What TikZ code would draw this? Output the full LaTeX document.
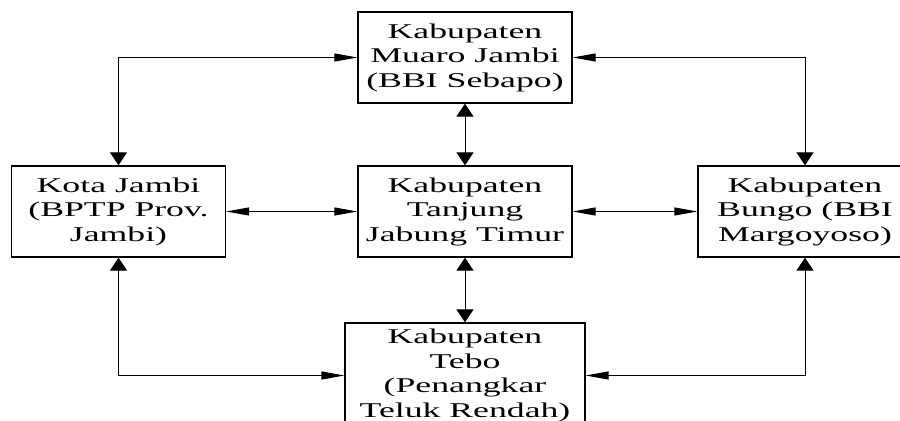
\documentclass[tikz,border=0pt]{standalone}
\usepackage{fontspec}
\setmainfont{Liberation Serif}[FakeStretch=1.7]
\usetikzlibrary{arrows.meta}

\tikzset{hTri/.tip={Triangle[length=11.5pt,width=4pt]},
  vTri/.tip={Triangle[length=6.5pt,width=8.5pt]}}

\begin{document}
\begin{tikzpicture}[x=0.5pt,y=-0.5pt]
      \clip (0,0) rectangle (900,421);

      \begin{scope}[every node/.style={draw,line width=0.65pt,inner sep=0pt,align=center,
          minimum width=107pt,minimum height=45.5pt,
          font=\fontsize{10.5pt}{12.25pt}\selectfont}]
        \node (muaro) at (465,57.5) {Kabupaten\\Muaro Jambi\\(BBI Sebapo)};
        \node (kota) at (118.5,211.5) {Kota Jambi\\(BPTP Prov.\\Jambi)};
        \node (tanjung) at (465,211.5) {Kabupaten\\Tanjung\\Jabung Timur};
        \node (bungo) at (805,211.5) {Kabupaten\\Bungo (BBI\\Margoyoso)};
        \node[minimum width=120pt,minimum height=52.5pt] (tebo) at (465,375.5)
          {Kabupaten\\Tebo\\(Penangkar\\Teluk Rendah)};
      \end{scope}

      \begin{scope}[line width=0.5pt,
          every edge/.style={draw=black,line width=0.5pt}]
        \path [hTri-hTri] (kota) edge (tanjung);
        \path [hTri-hTri] (tanjung) edge (bungo);
        \path [vTri-vTri] (muaro) edge (tanjung);
        \path [vTri-vTri] (tanjung) edge (tebo);
        \draw [hTri-vTri] (muaro.west) -| (kota.north);
        \draw [hTri-vTri] (muaro.east) -| (bungo.north);
        \draw [vTri-hTri] (kota.south) |- (tebo.west);
        \draw [vTri-hTri] (bungo.south) |- (tebo.east);
      \end{scope}
    \end{tikzpicture}
\end{document}
